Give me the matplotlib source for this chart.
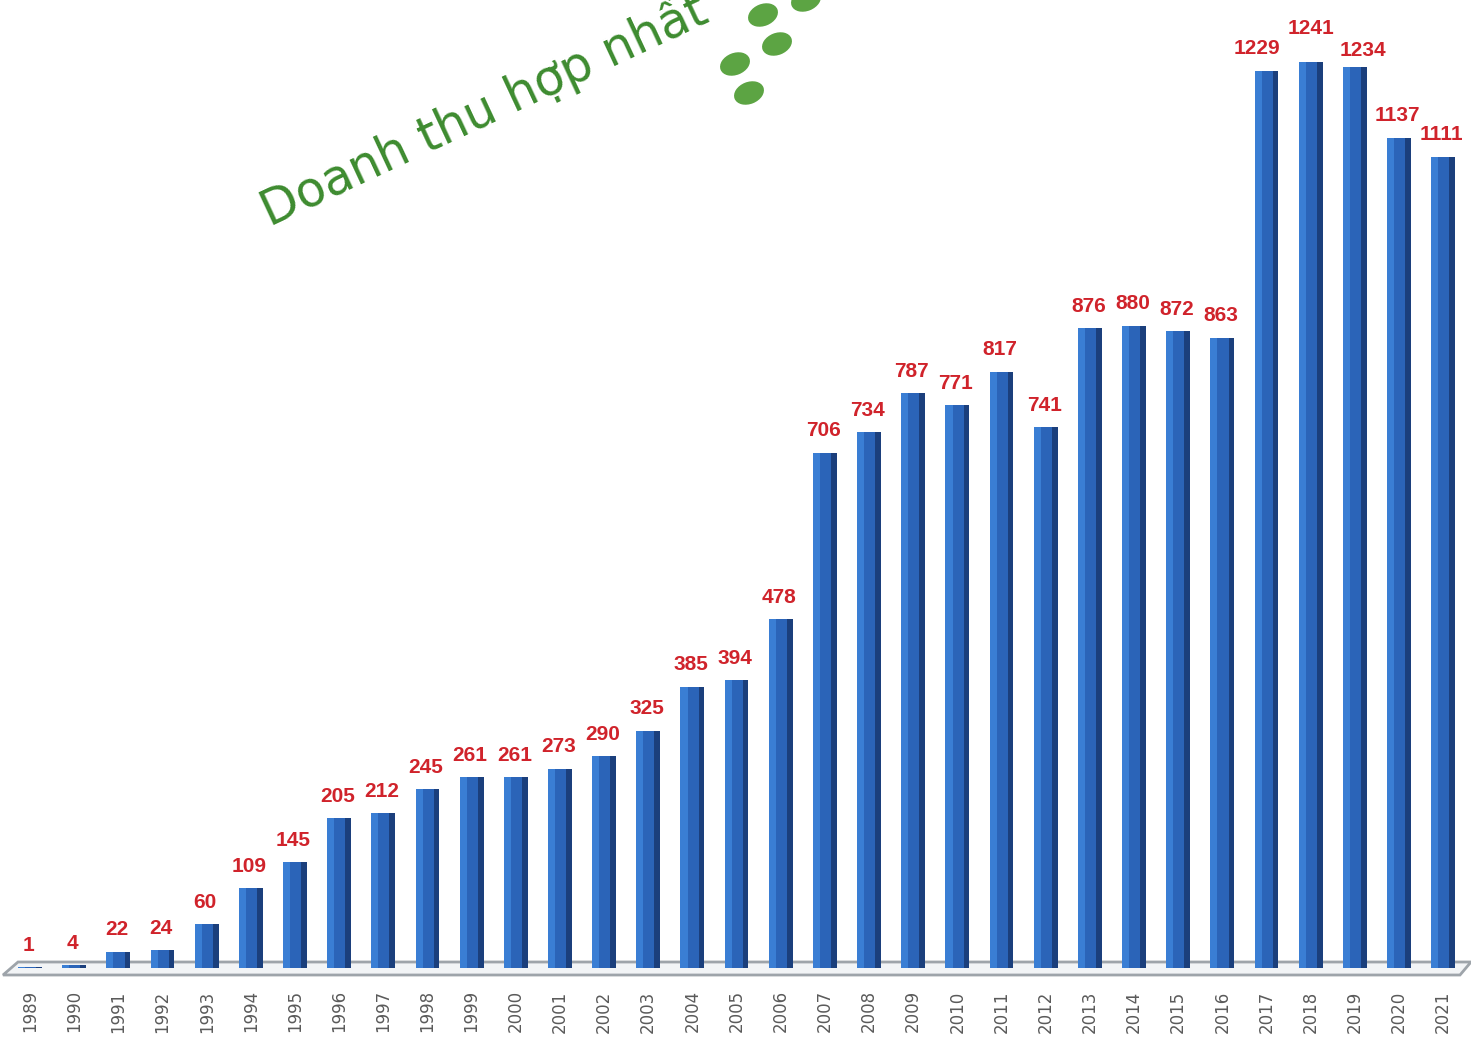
import numpy as np
import matplotlib
matplotlib.use('Agg')
from matplotlib import pyplot as plt
from matplotlib.patches import Ellipse, Polygon

# data
years = list(range(1989, 2022))
revenue = [1, 4, 22, 24, 60, 109, 145, 205, 212, 245,
           261, 261, 273, 290, 325, 385, 394, 478, 706, 734,
           787, 771, 817, 741, 876, 880, 872, 863, 1229, 1241,
           1234, 1137, 1111]
title = 'Doanh thu hợp nhất'

# label nudges (points) where labels crowd each other
label_nudge = {2017: (-7, 0), 2018: (0, 8), 2019: (6, -4)}

W, H, DPI = 1471, 1040, 100
fig = plt.figure(figsize=(W / DPI, H / DPI), dpi=DPI)
fig.patch.set_facecolor('white')

# axes: bottom edge sits on the front of the floor
ax = fig.add_axes([0, (H - 975) / H, 1, 975 / H])
px_per_unit = 906 / 1241
x_step = 44.16
ax.set_xlim(-30 / x_step, (W - 30) / x_step)
ax.set_ylim(-7 / px_per_unit, 968 / px_per_unit)
for s in ax.spines.values():
    s.set_visible(False)
ax.set_yticks([])

x = np.arange(len(years))

# floor (thin 3d plate)
def px2data(px, py):
    return ((px - 30) / x_step, (968 - py) / px_per_unit)

floor = Polygon([px2data(18, 962), px2data(1471, 962), px2data(1460, 975), px2data(3, 975)],
                closed=True, facecolor='#f2f4f6', edgecolor='#9ea4aa', lw=2,
                zorder=1, clip_on=False)
ax.add_patch(floor)

# bars with a simple 3d look
bw = 0.54
ax.bar(x, revenue, width=bw, color='#2b64b8', zorder=3)
ax.bar(x - bw / 2 + 0.08, revenue, width=0.16, color='#3a7ed4', zorder=4)
ax.bar(x + bw / 2 - 0.065, revenue, width=0.13, color='#1b3f7c', zorder=4)

for xi, yr, v in zip(x, years, revenue):
    dx, dy = label_nudge.get(yr, (-1, 0))
    ax.annotate(str(v), (xi, v), xytext=(dx, 9 + dy), textcoords='offset points',
                ha='center', va='bottom', fontsize=15, fontweight='bold',
                color='#d0232b', family='Liberation Sans', zorder=5)

ax.set_xticks(x)
ax.set_xticklabels([str(y) for y in years], rotation=90, fontsize=12, color='#5a5a5a')
ax.tick_params(axis='x', length=0, pad=11)

# rotated title
fig.text(270 / W, 1 - 227 / H, title, rotation=25, rotation_mode='anchor',
         ha='left', va='baseline', fontsize=35, color='#3d8b2f', family='DejaVu Sans')

# green dots
dot_px = [(749, 93), (735, 64), (777, 44), (763, 15), (806, 0)]
for dx_, dy_ in dot_px:
    e = Ellipse((dx_ / DPI, (H - dy_) / DPI), 0.31, 0.22, angle=22,
                transform=fig.dpi_scale_trans, facecolor='#5ca443', edgecolor='none')
    fig.patches.append(e)

fig.savefig('out.png', dpi=DPI)
